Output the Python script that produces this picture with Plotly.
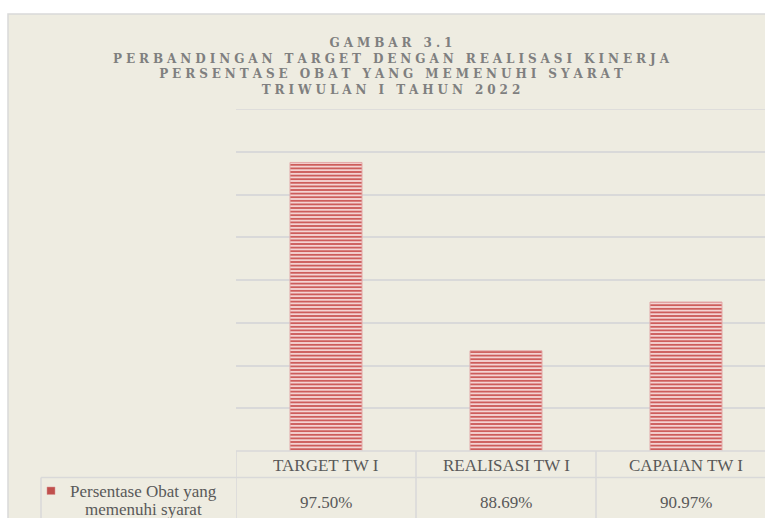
import plotly.graph_objects as go

# ---- data ----
categories = ["TARGET TW I", "REALISASI TW I", "CAPAIAN TW I"]
values = [97.50, 88.69, 90.97]
series_name = "Persentase Obat yang memenuhi syarat"
series_label_lines = ["Persentase Obat yang", "memenuhi syarat"]
title_lines = ["GAMBAR 3.1",
               "PERBANDINGAN TARGET DENGAN REALISASI KINERJA",
               "PERSENTASE OBAT YANG MEMENUHI SYARAT",
               "TRIWULAN I TAHUN 2022"]
y_min, y_max, y_step = 84, 100, 2

# ---- layout geometry (pixels) ----
W, H = 765, 518
L, R, T, B = 236, 0, 109, 67
PW, PH = W - L - R, H - T - B
COLW = 180.0


def px_x(p):
    return (p - L) / PW


def px_y(p):
    return (H - B - p) / PH


BG = "#EEECE1"
GRID = "#D9D9D9"
TXT = "#595959"
RED = "#C0504D"


def spaced(s):
    words = s.split(" ")
    return "\u2003".join("\u2004".join(list(w)) for w in words)


fig = go.Figure()
fig.add_trace(go.Bar(
    x=categories, y=values, name=series_name,
    width=0.4,
    marker=dict(color="#F3CFCE",
                line=dict(color="#E3A9A8", width=1),
                pattern=dict(shape="-", fgcolor="#C94F4D", bgcolor="#F4D3D2",
                             size=3.6, solidity=0.45, fillmode="replace")),
    showlegend=False,
))

shapes = []
# outer chart frame
shapes.append(dict(type="rect", xref="paper", yref="paper", layer="below",
                   x0=px_x(8), x1=px_x(W + 20), y0=px_y(H + 20), y1=px_y(14),
                   fillcolor=BG, line=dict(color=GRID, width=1.5)))
# top gridline (at range edge)
shapes.append(dict(type="line", xref="paper", yref="y", layer="below",
                   x0=0, x1=1, y0=y_max, y1=y_max,
                   line=dict(color=GRID, width=1.5)))
# table lines
shapes.append(dict(type="line", xref="paper", yref="paper",
                   x0=0, x1=px_x(W + 5), y0=px_y(451), y1=px_y(451),
                   line=dict(color=GRID, width=1.5)))
shapes.append(dict(type="line", xref="paper", yref="paper",
                   x0=px_x(41), x1=px_x(W + 5), y0=px_y(477.5), y1=px_y(477.5),
                   line=dict(color=GRID, width=1.5)))
shapes.append(dict(type="line", xref="paper", yref="paper",
                   x0=px_x(41), x1=px_x(41), y0=px_y(477.5), y1=px_y(H + 5),
                   line=dict(color=GRID, width=1.5)))
for i in range(len(categories)):
    shapes.append(dict(type="line", xref="x", yref="paper",
                       x0=i - 0.5, x1=i - 0.5, y0=px_y(451), y1=px_y(H + 5),
                       line=dict(color=GRID, width=1.5)))
# legend key in table
shapes.append(dict(type="rect", xref="paper", yref="paper",
                   x0=px_x(47), x1=px_x(55), y0=px_y(494.5), y1=px_y(487),
                   fillcolor=RED, line=dict(color="#D99694", width=0.5)))

annotations = []
annotations.append(dict(
    text="<br>".join(spaced(t) for t in title_lines),
    xref="paper", yref="paper", x=px_x(391), y=px_y(66),
    xanchor="center", yanchor="middle", showarrow=False, align="center",
    font=dict(family="DejaVu Serif", size=12, color="#7F7F7F", weight="bold")))
for i, (c, v) in enumerate(zip(categories, values)):
    annotations.append(dict(text=c, xref="x", yref="paper", x=i, y=px_y(465),
                            xanchor="center", yanchor="middle", showarrow=False,
                            font=dict(family="Liberation Serif", size=17, color=TXT)))
    annotations.append(dict(text=f"{v:.2f}%", xref="x", yref="paper", x=i, y=px_y(502),
                            xanchor="center", yanchor="middle", showarrow=False,
                            font=dict(family="Liberation Serif", size=17, color=TXT)))
for k, (line, yy) in enumerate(zip(series_label_lines, [491, 509])):
    annotations.append(dict(text=line, xref="paper", yref="paper", x=px_x(143), y=px_y(yy),
                            xanchor="center", yanchor="middle", showarrow=False,
                            font=dict(family="Liberation Serif", size=17, color=TXT)))

fig.update_layout(
    width=W, height=H,
    margin=dict(l=L, r=R, t=T, b=B, autoexpand=False),
    paper_bgcolor="white", plot_bgcolor=BG,
    shapes=shapes, annotations=annotations,
    showlegend=False,
    xaxis=dict(type="category", categoryarray=categories, range=[-0.5, -0.5 + PW / COLW],
               showticklabels=False, showgrid=False, zeroline=False, showline=False,
               fixedrange=True),
    yaxis=dict(range=[y_min, y_max], tickmode="linear", tick0=y_min, dtick=y_step,
               showticklabels=False, showgrid=True, gridcolor=GRID, gridwidth=1.5,
               zeroline=False, showline=False, fixedrange=True),
)

fig.write_html("out.html", config={"displayModeBar": False},
               post_script="document.body.style.margin='0';document.body.style.overflow='hidden';")
